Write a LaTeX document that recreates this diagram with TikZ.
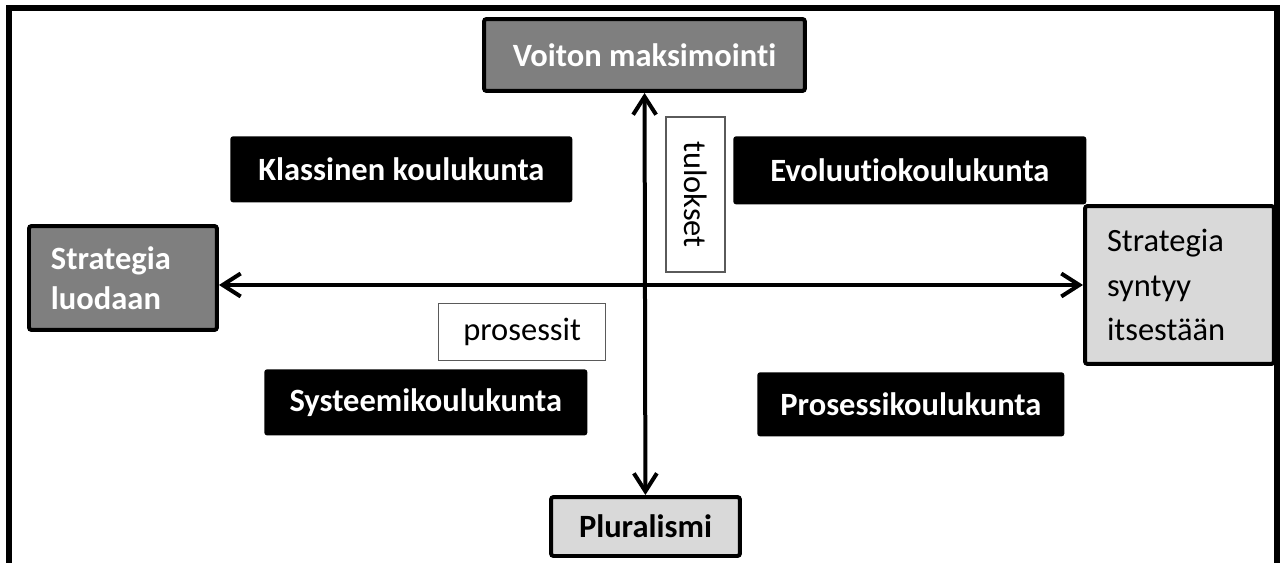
\documentclass[tikz,border=0pt]{standalone}
\usepackage{fontspec}
\setmainfont{Carlito}[Ligatures=NoCommon]
\usetikzlibrary{calc,positioning,arrows.meta,shapes}

\definecolor{dark_fill}{HTML}{7F7F7F}
\definecolor{light_fill}{HTML}{D9D9D9}
\definecolor{thin_edge}{HTML}{5A5A5A}

\tikzset{
  school_box/.style={rectangle,rounded corners=1.5pt,fill=black,text=white,
    font=\fontsize{18.5}{24}\selectfont\bfseries,anchor=north west,inner sep=0pt},
  dark_box/.style={rectangle,rounded corners=1.5pt,draw=black,line width=0.08cm,
    fill=dark_fill,text=white,anchor=north west,inner sep=0pt,
    font=\fontsize{18.5}{23}\selectfont\bfseries},
  light_box/.style={rectangle,rounded corners=1.5pt,draw=black,line width=0.08cm,
    fill=light_fill,text=black,anchor=north west,inner sep=0pt,
    font=\fontsize{18.5}{25.5}\selectfont},
  label_box/.style={rectangle,draw=thin_edge,line width=0.8pt,fill=white,
    text=black,inner sep=0pt,font=\fontsize{18.5}{22}\selectfont},
  axis_line/.style={line width=0.08cm,{Straight Barb[length=0.36cm,width=0.46cm]}-{Straight Barb[length=0.36cm,width=0.46cm]}}
}

\begin{document}
\begin{tikzpicture}[x=0.02cm,y=-0.02cm]

  \useasboundingbox (0,0) rectangle (1281,562);

  % open frame, the bottom edge lies outside the picture
  \draw[line width=0.11cm] (9,580) -- (9,8) -- (1277,8) -- (1277,580);

  \node [dark_box,minimum width=6.42cm,minimum height=1.44cm] at(482,17) (voiton_box) {Voiton maksimointi};
  \node [light_box,minimum width=3.78cm,minimum height=1.18cm,font=\fontsize{18.5}{22}\selectfont\bfseries] at(549,495) (pluralismi_box) {Pluralismi};

  \node [dark_box,minimum width=3.76cm,minimum height=2.08cm,align=left,text width=2.88cm,inner xsep=0.44cm] at(27,224) (luodaan_box) {Strategia\\luodaan};
  \node [light_box,minimum width=3.78cm,minimum height=3.16cm,align=left,text width=2.9cm,inner xsep=0.44cm] at(1083,204) (syntyy_box) {Strategia\\syntyy\\itsestään};

  \node [school_box,minimum width=6.84cm,minimum height=1.32cm] at(230,136) (klassinen_box) {Klassinen koulukunta};
  \node [school_box,minimum width=7.06cm,minimum height=1.36cm] at(733,136) (evoluutio_box) {Evoluutiokoulukunta};
  \node [school_box,minimum width=6.46cm,minimum height=1.32cm] at(264,369) (systeemi_box) {Systeemikoulukunta};
  \node [school_box,minimum width=6.14cm,minimum height=1.28cm] at(757,372) (prosessi_box) {Prosessikoulukunta};

  % axes
  \draw[axis_line] (voiton_box) -- (pluralismi_box);
  \draw[axis_line] (luodaan_box.east |- syntyy_box.west) -- (syntyy_box.west);

  \node [label_box,rotate=-90,minimum width=3.1cm,minimum height=1.18cm] at(695.5,194.5) (tulokset_box) {tulokset};
  \node [label_box,minimum width=3.34cm,minimum height=1.14cm,anchor=north west] at(438,303) (prosessit_box) {prosessit};

\end{tikzpicture}
\end{document}
